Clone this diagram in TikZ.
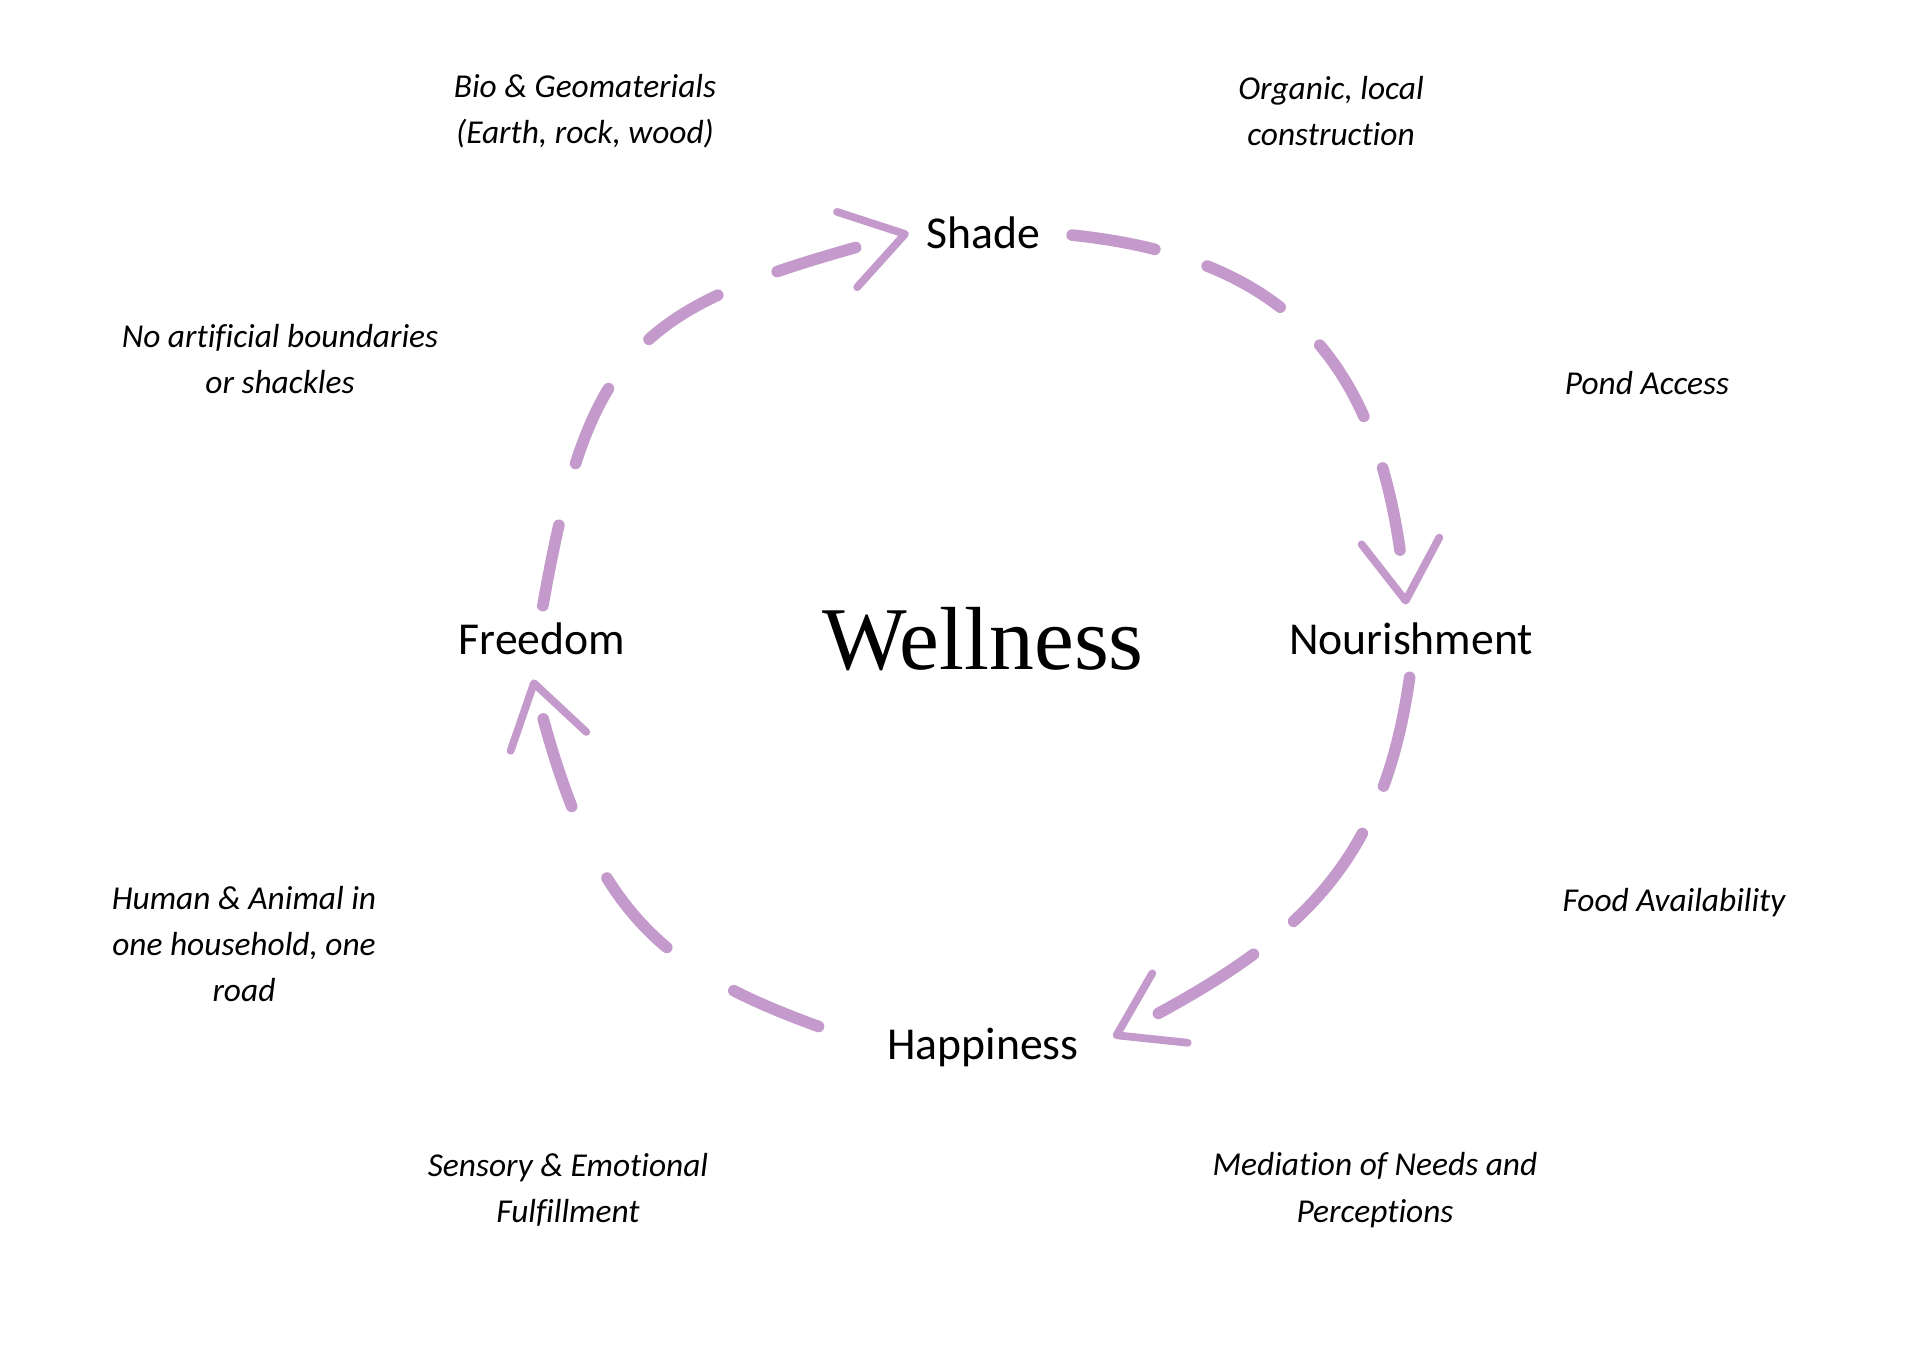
\documentclass[tikz,border=0pt]{standalone}
\usepackage{fontspec}
\setmainfont[Ligatures=NoCommon]{Carlito}
\newfontfamily\wellfont{Liberation Serif}
\usetikzlibrary{arrows.meta}
\definecolor{lilac}{RGB}{196,153,203}

\begin{document}
\begin{tikzpicture}[
    stage/.style={font=\fontsize{13}{16}\selectfont},
    note/.style={font=\fontsize{9.5}{13.2}\selectfont\itshape, align=center},
    flow/.style={draw=lilac, line width=3.3pt, line cap=round, looseness=1.2,
      -{Straight Barb[length=0.6cm, width=0.78cm, line width=2.2pt, round]}}
  ]
    \useasboundingbox (0,0) rectangle (19.2,13.61);
    \node[font=\wellfont\fontsize{25.5}{30}\selectfont] (well) at (9.83,7.22) {Wellness};
    \node[stage] (shade) at (9.83,11.28) {Shade};
    \node[stage] (nour) at (14.11,7.22) {Nourishment};
    \node[stage] (happ) at (9.83,3.14) {Happiness};
    \node[stage] (free) at (5.42,7.22) {Freedom};

    \draw[flow, dash pattern=on 0.84cm off 0.55cm, shorten <=0.2cm]
        (shade.east) to[out=-6, in=95] ([shift={(-0.05,0.06)}]nour.north);
    \draw[flow, dash pattern=on 1.12cm off 0.52cm, shorten <=0.1cm, looseness=1.1]
        (nour.south) to[out=-98, in=27] ([shift={(0.22,0.1)}]happ.east);
    \draw[flow, dash pattern=on 0.92cm off 0.8cm, shorten <=0.6cm]
        (happ.west) to[out=160, in=-76] ([shift={(-0.09,-0.12)}]free.south);
    \draw[flow, dash pattern=on 0.82cm off 0.64cm, shorten <=0.05cm, looseness=1.35]
        (free.north) to[out=80, in=195] ([shift={(-0.05,0)}]shade.west);

    \node[note] (bio) at (5.85,12.50) {Bio \& Geomaterials\\(Earth, rock, wood)};
    \node[note] (organic) at (13.31,12.50) {Organic, local\\construction};
    \node[note] (bounds) at (2.80,10.02) {No artificial boundaries\\or shackles};
    \node[note] (pond) at (16.47,9.78) {Pond Access};
    \node[note] (house) at (2.44,4.17) {Human \& Animal in\\one household, one\\road};
    \node[note] (food) at (16.74,4.58) {Food Availability};
    \node[note] (sense) at (5.68,1.71) {Sensory \& Emotional\\Fulfillment};
    \node[note] (needs) at (13.75,1.71) {Mediation of Needs and\\Perceptions};
\end{tikzpicture}
\end{document}
